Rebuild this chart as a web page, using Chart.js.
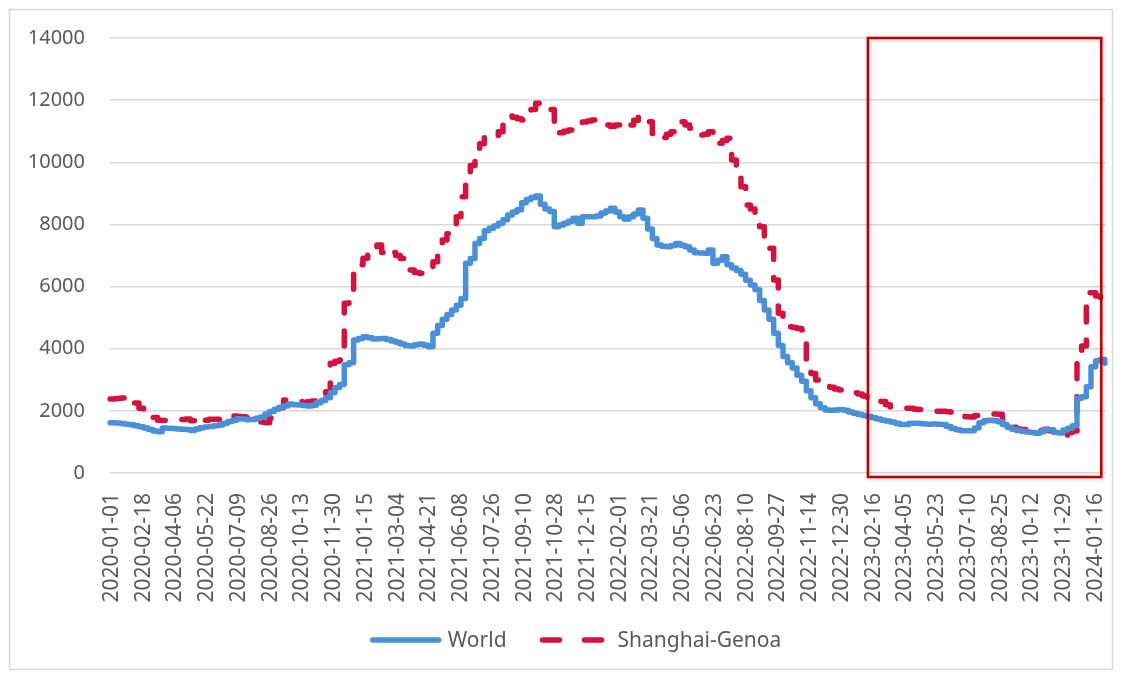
<!DOCTYPE html>
<html>
<head>
<meta charset="utf-8">
<title>World vs Shanghai-Genoa freight rate</title>
<script src="https://cdn.jsdelivr.net/npm/chart.js@4.4.1/dist/chart.umd.min.js"></script>
<style>
  html, body { margin: 0; padding: 0; background: #ffffff; }
  #wrap { width: 1123px; height: 674px; }
</style>
</head>
<body>
<div id="wrap"><canvas id="chart" width="1123" height="674"></canvas></div>
<script>
// Daily (business-day) category axis: 2020-01-01 .. 2024-02-01
const firstDay = '2020-01-01';
const lastDay = '2024-02-01';

// Dates printed under the axis
const tickDates = [
  '2020-01-01','2020-02-18','2020-04-06','2020-05-22','2020-07-09','2020-08-26','2020-10-13','2020-11-30',
  '2021-01-15','2021-03-04','2021-04-21','2021-06-08','2021-07-26','2021-09-10','2021-10-28','2021-12-15',
  '2022-02-01','2022-03-21','2022-05-06','2022-06-23','2022-08-10','2022-09-27','2022-11-14','2022-12-30',
  '2023-02-16','2023-04-05','2023-05-23','2023-07-10','2023-08-25','2023-10-12','2023-11-29','2024-01-16'
];

// Weekly rates (USD/40ft). First value is for 2020-01-01, then one per Thursday from 2020-01-02.
const worldValues = [
  1620,
  1620,1610,1590,1570,1550,1520,1490,1450,1400,1350,
  1330,1450,1440,1430,1420,1410,1400,1365,1420,1460,
  1480,1500,1520,1545,1600,1660,1700,1750,1740,1710,
  1720,1760,1800,1900,1980,2050,2114,2160,2220,2200,
  2190,2175,2160,2180,2260,2330,2420,2580,2750,2850,
  3480,3550,4280,4330,4387,4350,4310,4320,4330,4300,
  4250,4210,4150,4100,4090,4130,4150,4110,4065,4495,
  4750,4950,5100,5250,5400,5620,6750,6900,7390,7550,
  7800,7880,7950,8035,8150,8300,8400,8470,8700,8800,
  8870,8914,8650,8500,8420,7926,7980,8035,8100,8196,
  8035,8250,8250,8250,8270,8370,8430,8518,8400,8250,
  8164,8250,8335,8463,8200,7850,7550,7337,7300,7283,
  7320,7390,7330,7280,7180,7090,7080,7070,7176,6750,
  6850,6961,6700,6600,6520,6400,6200,6050,5900,5550,
  5250,4950,4500,4100,3750,3550,3380,3150,2950,2650,
  2420,2230,2100,2030,2020,2030,2040,2020,1960,1920,
  1880,1850,1815,1780,1740,1700,1670,1640,1600,1560,
  1560,1600,1600,1590,1580,1570,1575,1570,1560,1500,
  1430,1390,1362,1360,1360,1450,1620,1680,1700,1680,
  1650,1560,1470,1410,1370,1340,1320,1300,1280,1330,
  1400,1390,1300,1290,1380,1440,1520,2404,2455,2777,
  3422,3615,3650,3530
];

const genoaValues = [
  2380,
  2380,2400,2410,2430,2450,2250,2080,2000,1900,1790,
  1700,1690,1683,1700,1710,1720,1740,1680,1577,1650,
  1700,1727,1727,1730,1727,1800,1834,1820,1810,1780,
  1720,1680,1640,1620,1760,1834,2100,2350,2330,2320,
  2300,2280,2290,2320,2350,2450,2616,3530,3600,3636,
  5460,5650,6478,6700,6909,7100,7283,7337,7100,7200,
  7100,7000,6900,6700,6533,6450,6426,6500,6640,6800,
  7070,7498,7700,7950,8250,8892,9374,9900,10449,10600,
  10800,10877,10850,10984,11200,11488,11450,11400,11360,11500,
  11700,11897,11800,11736,11700,10930,10950,11000,11038,11150,
  11253,11300,11330,11360,11300,11250,11199,11150,11200,11253,
  11145,11200,11350,11488,11400,11306,10930,10770,10800,10900,
  10984,11150,11306,11200,11092,11000,10877,10900,10984,10610,
  10610,10700,10770,10073,9696,9213,8624,8500,8150,7926,
  7604,7230,6211,5140,4900,4710,4680,4650,4600,3475,
  3200,2993,2900,2800,2757,2700,2670,2648,2600,2580,
  2540,2478,2420,2380,2350,2300,2200,2080,2080,2080,
  2080,2080,2050,2040,2030,2005,2000,1990,1985,1973,
  1930,1880,1840,1813,1800,1850,1888,1900,1900,1900,
  1890,1700,1520,1470,1420,1400,1362,1340,1330,1370,
  1405,1360,1300,1250,1223,1300,1350,3636,4087,5800,
  5800,5700,5450,5400
];

// Highlighted period (boxed in dark red)
const highlightFrom = '2023-02-10';
const highlightTo = '2024-01-26';
const highlightTop = 14000;
const highlightBottom = -130;

// ---- helpers ----
function isoDate(d) { return d.toISOString().slice(0, 10); }
function parseIso(s) { return new Date(s + 'T00:00:00Z'); }

function businessDays(from, to) {
  const out = [];
  const d = parseIso(from), end = parseIso(to);
  while (d <= end) {
    const wd = d.getUTCDay();
    if (wd !== 0 && wd !== 6) out.push(isoDate(d));
    d.setUTCDate(d.getUTCDate() + 1);
  }
  return out;
}

// Release dates: 2020-01-01 then every Thursday from 2020-01-02
function releaseDates(count) {
  const out = [firstDay];
  const d = parseIso('2020-01-02');
  for (let i = 1; i < count; i++) {
    out.push(isoDate(d));
    d.setUTCDate(d.getUTCDate() + 7);
  }
  return out;
}

const days = businessDays(firstDay, lastDay);
const dates = releaseDates(worldValues.length);
const toPoints = vals => vals.map((v, i) => ({ x: dates[i], y: v }));
const tickSet = new Set(tickDates);

const FONT = 'Noto Sans';
const TEXT = '#595959';
const BLUE = '#4a90d9';
const RED = '#d4123c';

const framePlugin = {
  id: 'frame',
  beforeDraw(chart) {
    const c = chart.ctx;
    c.save();
    c.fillStyle = '#ffffff';
    c.fillRect(0, 0, chart.width, chart.height);
    c.strokeStyle = '#d9d9d9';
    c.lineWidth = 1.5;
    c.strokeRect(9.5, 9.5, 1103, 660);
    c.restore();
  }
};

const highlightPlugin = {
  id: 'highlight',
  afterDatasetsDraw(chart) {
    const xs = chart.scales.x, ys = chart.scales.y;
    const x0 = xs.getPixelForValue(days.indexOf(highlightFrom));
    const x1 = xs.getPixelForValue(days.indexOf(highlightTo));
    const y0 = ys.getPixelForValue(highlightTop);
    const y1 = ys.getPixelForValue(highlightBottom);
    const c = chart.ctx;
    c.save();
    c.shadowColor = 'rgba(0,0,0,0.25)';
    c.shadowBlur = 4;
    c.shadowOffsetX = 1;
    c.shadowOffsetY = 1;
    c.strokeStyle = '#c00000';
    c.lineWidth = 2.5;
    c.strokeRect(x0, y0, x1 - x0, y1 - y0);
    c.restore();
  }
};

// Legend under the axis: a line sample followed by the series name
const legendDash = { 'World': [], 'Shanghai-Genoa': [17, 25] };
const legendPlugin = {
  id: 'seriesLegend',
  afterDraw(chart) {
    const c = chart.ctx;
    const sample = 66, gapText = 9, gapItem = 36, cy = 640, centre = 577;
    c.save();
    c.font = '21px "' + FONT + '"';
    c.textBaseline = 'middle';
    c.textAlign = 'left';
    const items = chart.data.datasets.map(ds => ({
      text: ds.label, color: ds.borderColor, width: ds.borderWidth,
      dash: legendDash[ds.label] || [], tw: c.measureText(ds.label).width
    }));
    let total = 0;
    items.forEach((it, i) => { total += sample + gapText + it.tw + (i ? gapItem : 0); });
    let x = centre - total / 2;
    items.forEach((it, i) => {
      if (i) x += gapItem;
      c.beginPath();
      c.setLineDash(it.dash);
      c.lineCap = 'round';
      c.lineWidth = it.width;
      c.strokeStyle = it.color;
      c.moveTo(x, cy);
      c.lineTo(x + sample, cy);
      c.stroke();
      c.setLineDash([]);
      x += sample + gapText;
      c.fillStyle = TEXT;
      c.fillText(it.text, x, cy + 1);
      x += it.tw;
    });
    c.restore();
  }
};

new Chart(document.getElementById('chart'), {
  type: 'line',
  data: {
    labels: days,
    datasets: [
      {
        label: 'World',
        data: toPoints(worldValues),
        borderColor: BLUE,
        backgroundColor: BLUE,
        borderWidth: 5.5,
        stepped: true,
        pointRadius: 0,
        borderCapStyle: 'round',
        borderJoinStyle: 'round',
        fill: false
      },
      {
        label: 'Shanghai-Genoa',
        data: toPoints(genoaValues),
        borderColor: RED,
        backgroundColor: RED,
        borderWidth: 5.5,
        borderDash: [15, 18],
        stepped: true,
        pointRadius: 0,
        borderCapStyle: 'round',
        borderJoinStyle: 'round',
        fill: false
      }
    ]
  },
  options: {
    responsive: false,
    animation: false,
    events: [],
    layout: { padding: { left: 10, right: 18, top: 38, bottom: 14 } },
    scales: {
      x: {
        type: 'category',
        offset: false,
        grid: { display: false },
        border: { display: false },
        ticks: {
          autoSkip: false,
          minRotation: 90,
          maxRotation: 90,
          padding: 12,
          labelOffset: 2,
          color: TEXT,
          font: { family: FONT, size: 21 }
        },
        afterBuildTicks(scale) {
          scale.ticks = scale.ticks.filter(t => tickSet.has(days[t.value]));
        },
        afterFit(scale) {
          scale.height = 674 - 14 - 473;
          scale.paddingLeft = 0;
          scale.paddingRight = 0;
        }
      },
      y: {
        min: 0,
        max: 14000,
        ticks: {
          stepSize: 2000,
          padding: 25,
          color: TEXT,
          font: { family: FONT, size: 20 },
          callback: v => String(v)
        },
        grid: { color: '#d9d9d9', lineWidth: 1.5, drawTicks: false },
        border: { display: false },
        afterFit(scale) { scale.width = 100; }
      }
    },
    plugins: {
      legend: { display: false },
      tooltip: { enabled: false }
    }
  },
  plugins: [framePlugin, highlightPlugin, legendPlugin]
});
</script>
</body>
</html>
